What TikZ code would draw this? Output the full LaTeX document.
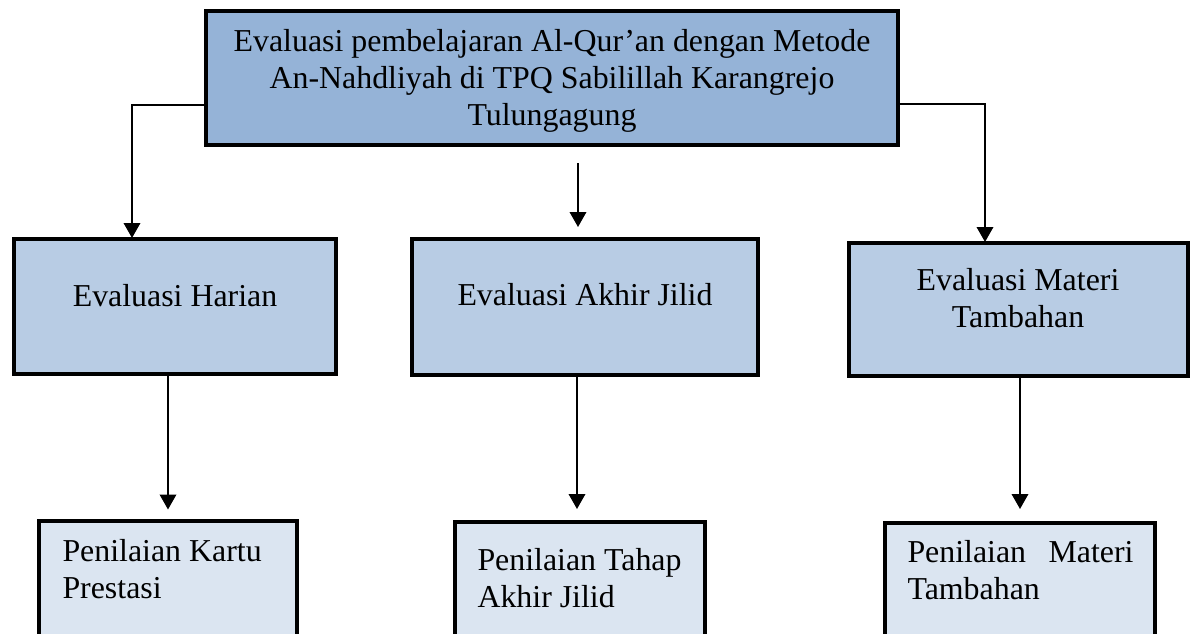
\documentclass[tikz,border=0pt]{standalone}
\usepackage{fontspec}
\setmainfont{Liberation Serif}
\usetikzlibrary{arrows.meta}
\definecolor{boxtop}{RGB}{149,179,215}
\definecolor{boxmid}{RGB}{184,204,228}
\definecolor{boxlow}{RGB}{219,229,241}
\begin{document}
\begin{tikzpicture}[x=0.4pt,y=-0.4pt,>={Triangle[width=6.6pt,length=6pt]},
        font=\fontsize{12.75}{14.8}\selectfont,
        frame/.style={draw,line width=1.6pt,inner sep=0pt,outer sep=0pt},
        conn/.style={->,line width=0.8pt,shorten >=0.4pt}]
        \useasboundingbox (0,0) rectangle (1196,634);
        \clip (0,0) rectangle (1196,634);
        % kotak
        \node[frame,fill=boxtop,minimum width=276.8pt,minimum height=53.6pt] (top) at (552,78) {};
        \node[frame,fill=boxmid,minimum width=128.8pt,minimum height=54pt] (hari) at (175,306.5) {};
        \node[frame,fill=boxmid,minimum width=138.4pt,minimum height=54.4pt] (akhir) at (585,307) {};
        \node[frame,fill=boxmid,minimum width=135.6pt,minimum height=53.2pt] (materi) at (1018.5,309.5) {};
        \node[frame,fill=boxlow,minimum width=103.2pt,minimum height=62.8pt] (kartu) at (168,599.5) {};
        \node[frame,fill=boxlow,minimum width=100pt,minimum height=62.4pt] (tahap) at (580,600) {};
        \node[frame,fill=boxlow,minimum width=108pt,minimum height=62pt] (tambah) at (1020,600.5) {};
        % teks
        \node[align=center] (top-t) at (552,81) {Evaluasi pembelajaran Al-Qur’an dengan Metode\\An-Nahdliyah di TPQ Sabilillah Karangrejo\\Tulungagung};
        \node (hari-t) at (175,296) {Evaluasi Harian};
        \node (akhir-t) at (585,295) {Evaluasi Akhir Jilid};
        \node[align=center] (materi-t) at (1018,298) {Evaluasi Materi\\Tambahan};
        \node[align=left,anchor=west,inner sep=0pt] (kartu-t) at (62,569) {Penilaian Kartu\\Prestasi};
        \node[align=left,anchor=west,inner sep=0pt] (tahap-t) at (477,578) {Penilaian Tahap\\Akhir Jilid};
        \node[align=left,anchor=west,inner sep=0pt,text width=90.4pt] (tambah-t) at (907,570) {Penilaian\hfill Materi\\Tambahan};
        % panah
        \coordinate (lb) at (132,105);
        \coordinate (rb) at (985,104);
        \coordinate (ma) at (578,163);
        \draw[conn] (top.west |- lb) -- (lb) -- (lb |- hari.north);
        \draw[conn] (top.east |- rb) -- (rb) -- (rb |- materi.north);
        \draw[conn,shorten >=4.8pt] (ma) -- (ma |- akhir.north);
        \draw[conn,shorten >=4.6pt] (hari.south -| kartu) -- (kartu.north);
        \draw[conn,shorten >=5.2pt] (akhir.south -| 577,0) -- (577,0 |- tahap.north);
        \draw[conn,shorten >=5.6pt] (materi.south -| tambah) -- (tambah.north);
\end{tikzpicture}
\end{document}
